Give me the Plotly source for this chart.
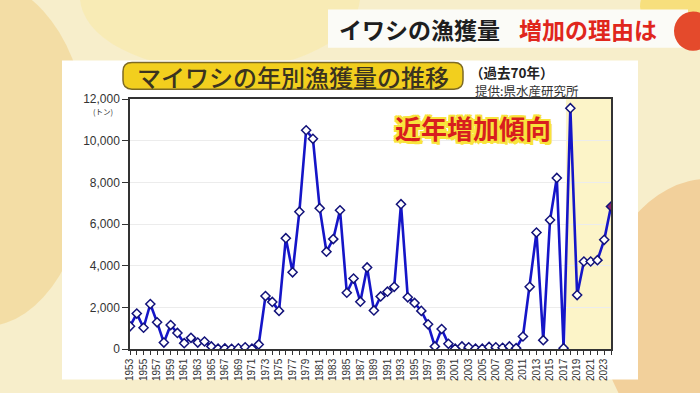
import plotly.graph_objects as go

# ---------------- data ----------------
years = list(range(1953, 2025))
catch_tons = [
    1090, 1700, 1020, 2160, 1280, 310, 1150, 770, 280, 535,      # 1953-1962
    310, 360, 125, 15, 25, 10, 30, 80, 15, 220,                  # 1963-1972
    2540, 2260, 1830, 5320, 3680, 6590, 10500, 10090, 6760, 4670, # 1973-1982
    5275, 6660, 2700, 3380, 2270, 3915, 1850, 2525, 2750, 2985,  # 1983-1992
    6950, 2480, 2210, 1830, 1185, 125, 960, 250, 15, 125,        # 1993-2002
    80, 15, 15, 100, 80, 60, 125, 40, 600, 2985,                 # 2003-2012
    5590, 425, 6190, 8210, 40, 11560, 2590, 4200, 4200, 4265,    # 2013-2022
    5240, 6840,                                                  # 2023-2024
]
x_tick_vals = years
x_tick_text = [str(y) if y % 2 == 1 else "" for y in years]
y_tick_vals = [0, 2000, 4000, 6000, 8000, 10000, 12000]
recent_start = 2017.35

header_black = "イワシの漁獲量"
header_red = "増加の理由は"
chart_title = "マイワシの年別漁獲量の推移"
period_note = "（過去70年）"
source_note = "提供:県水産研究所"
unit_label = "(トン)"
trend_label = "近年増加傾向"

# ---------------- layout geometry ----------------
FW, FH = 700, 393
L, R, T, B = 130, 89, 99, 40
PW, PH = FW - L - R, FH - T - B

def px(x):
    return (x - L) / PW

def py(y):
    return (FH - B - y) / PH

CJK = "Noto Sans CJK JP"
LAT = "Liberation Sans, Arial, sans-serif"

fig = go.Figure()

marker_fill = ["white"] * (len(years) - 1) + ["#8a1f6a"]
fig.add_trace(go.Scatter(
    x=years, y=catch_tons, mode="lines+markers",
    line=dict(color="#1515c8", width=2.6),
    marker=dict(symbol="diamond", size=7, color=marker_fill,
                line=dict(color="#12127a", width=1.5)),
    hoverinfo="x+y", showlegend=False,
))

shapes = []
# warm TV background blotches
shapes.append(dict(type="circle", xref="paper", yref="paper",
                   x0=px(-120), x1=px(90), y0=py(330), y1=py(-20),
                   fillcolor="#f0cf86", opacity=0.55, line_width=0, layer="below"))
shapes.append(dict(type="circle", xref="paper", yref="paper",
                   x0=px(600), x1=px(820), y0=py(460), y1=py(180),
                   fillcolor="#eebd7c", opacity=0.6, line_width=0, layer="below"))
shapes.append(dict(type="circle", xref="paper", yref="paper",
                   x0=px(80), x1=px(360), y0=py(70), y1=py(-80),
                   fillcolor="#f8e9a6", opacity=0.6, line_width=0, layer="below"))
shapes.append(dict(type="circle", xref="paper", yref="paper",
                   x0=px(640), x1=px(730), y0=py(40), y1=py(-30),
                   fillcolor="#f6d64a", opacity=0.6, line_width=0, layer="below"))
# white chart panel
shapes.append(dict(type="rect", xref="paper", yref="paper",
                   x0=px(62), x1=px(638), y0=py(384), y1=py(60),
                   fillcolor="white", line_width=0, layer="below"))
# recent-years shading
shapes.append(dict(type="rect", xref="x", yref="y",
                   x0=recent_start, x1=2024, y0=0, y1=12000,
                   fillcolor="#fcf4c8", line_width=0, layer="below"))
# title box (rounded)
bx0, bx1, by0, by1, r = 123, 463, 62, 89, 9
def P(x, y):
    return f"{px(x):.5f},{py(y):.5f}"
path = (f"M {P(bx0 + r, by0)} L {P(bx1 - r, by0)} Q {P(bx1, by0)} {P(bx1, by0 + r)} "
        f"L {P(bx1, by1 - r)} Q {P(bx1, by1)} {P(bx1 - r, by1)} "
        f"L {P(bx0 + r, by1)} Q {P(bx0, by1)} {P(bx0, by1 - r)} "
        f"L {P(bx0, by0 + r)} Q {P(bx0, by0)} {P(bx0 + r, by0)} Z")
shapes.append(dict(type="path", xref="paper", yref="paper", path=path,
                   fillcolor="#f2cf1e", line=dict(color="#7d6a24", width=1.5)))
# header box and red ball
shapes.append(dict(type="rect", xref="paper", yref="paper",
                   x0=px(328), x1=px(688), y0=py(47), y1=py(8),
                   fillcolor="#fbfbf7", line_width=0))
shapes.append(dict(type="circle", xref="paper", yref="paper",
                   x0=px(674), x1=px(712), y0=py(50), y1=py(10),
                   fillcolor="#e44a2c", line_width=0))

ann = []
ann.append(dict(x=px(337), y=py(28), xref="paper", yref="paper", text=header_black,
                showarrow=False, xanchor="left", yanchor="middle",
                font=dict(family=CJK, size=23, color="#1e1e1e", weight="bold")))
ann.append(dict(x=px(517), y=py(28), xref="paper", yref="paper", text=header_red,
                showarrow=False, xanchor="left", yanchor="middle",
                font=dict(family=CJK, size=23, color="#e0261c", weight="bold")))
ann.append(dict(x=px(293), y=py(76), xref="paper", yref="paper", text=chart_title,
                showarrow=False, xanchor="center", yanchor="middle",
                font=dict(family=CJK, size=24, color="#3a3320", weight=500)))
ann.append(dict(x=px(468), y=py(72), xref="paper", yref="paper", text=period_note,
                showarrow=False, xanchor="left", yanchor="middle",
                font=dict(family=CJK, size=13.5, color="#222", weight="bold")))
ann.append(dict(x=px(473), y=py(90), xref="paper", yref="paper", text=source_note,
                showarrow=False, xanchor="left", yanchor="middle",
                font=dict(family=CJK, size=12.5, color="#333")))
ann.append(dict(x=px(115), y=py(112), xref="paper", yref="paper", text=unit_label,
                showarrow=False, xanchor="right", yanchor="middle",
                font=dict(family=CJK, size=7.5, color="#333")))
st = "#f8e43c"
shadow = ", ".join(f"{dx}px {dy}px 0 {st}" for dx, dy in
                   [(2, 0), (-2, 0), (0, 2), (0, -2), (2, 2), (-2, -2), (2, -2), (-2, 2),
                    (3, 3)])
ann.append(dict(x=px(473), y=py(128), xref="paper", yref="paper", text=trend_label,
                showarrow=False, xanchor="center", yanchor="middle",
                font=dict(family=CJK, size=26, color="#d81e1e", weight="bold",
                          shadow=shadow)))

fig.update_layout(
    width=FW, height=FH, margin=dict(l=L, r=R, t=T, b=B, pad=0),
    paper_bgcolor="#f7eecb", plot_bgcolor="rgba(0,0,0,0)",
    shapes=shapes, annotations=ann, showlegend=False,
    xaxis=dict(range=[1953, 2024], tickvals=x_tick_vals, ticktext=x_tick_text,
               tickangle=-90, ticks="outside", ticklen=4, tickcolor="#333",
               showline=True, linecolor="#333", linewidth=1.5, mirror=True,
               showgrid=False, zeroline=False,
               tickfont=dict(family="Liberation Sans Narrow, " + LAT, size=10, color="#333")),
    yaxis=dict(range=[0, 12000], tickvals=y_tick_vals, tickformat=",",
               ticks="outside", ticklen=6, tickcolor="#333",
               showline=True, linecolor="#333", linewidth=1.5, mirror=True,
               showgrid=True, gridcolor="#ececec", gridwidth=1, zeroline=False,
               tickfont=dict(family=LAT, size=12, color="#333")),
)

fig.write_html("out.html", config={"displayModeBar": False},
               post_script="document.body.style.margin='0px'; document.body.style.background='#f7eecb';")
